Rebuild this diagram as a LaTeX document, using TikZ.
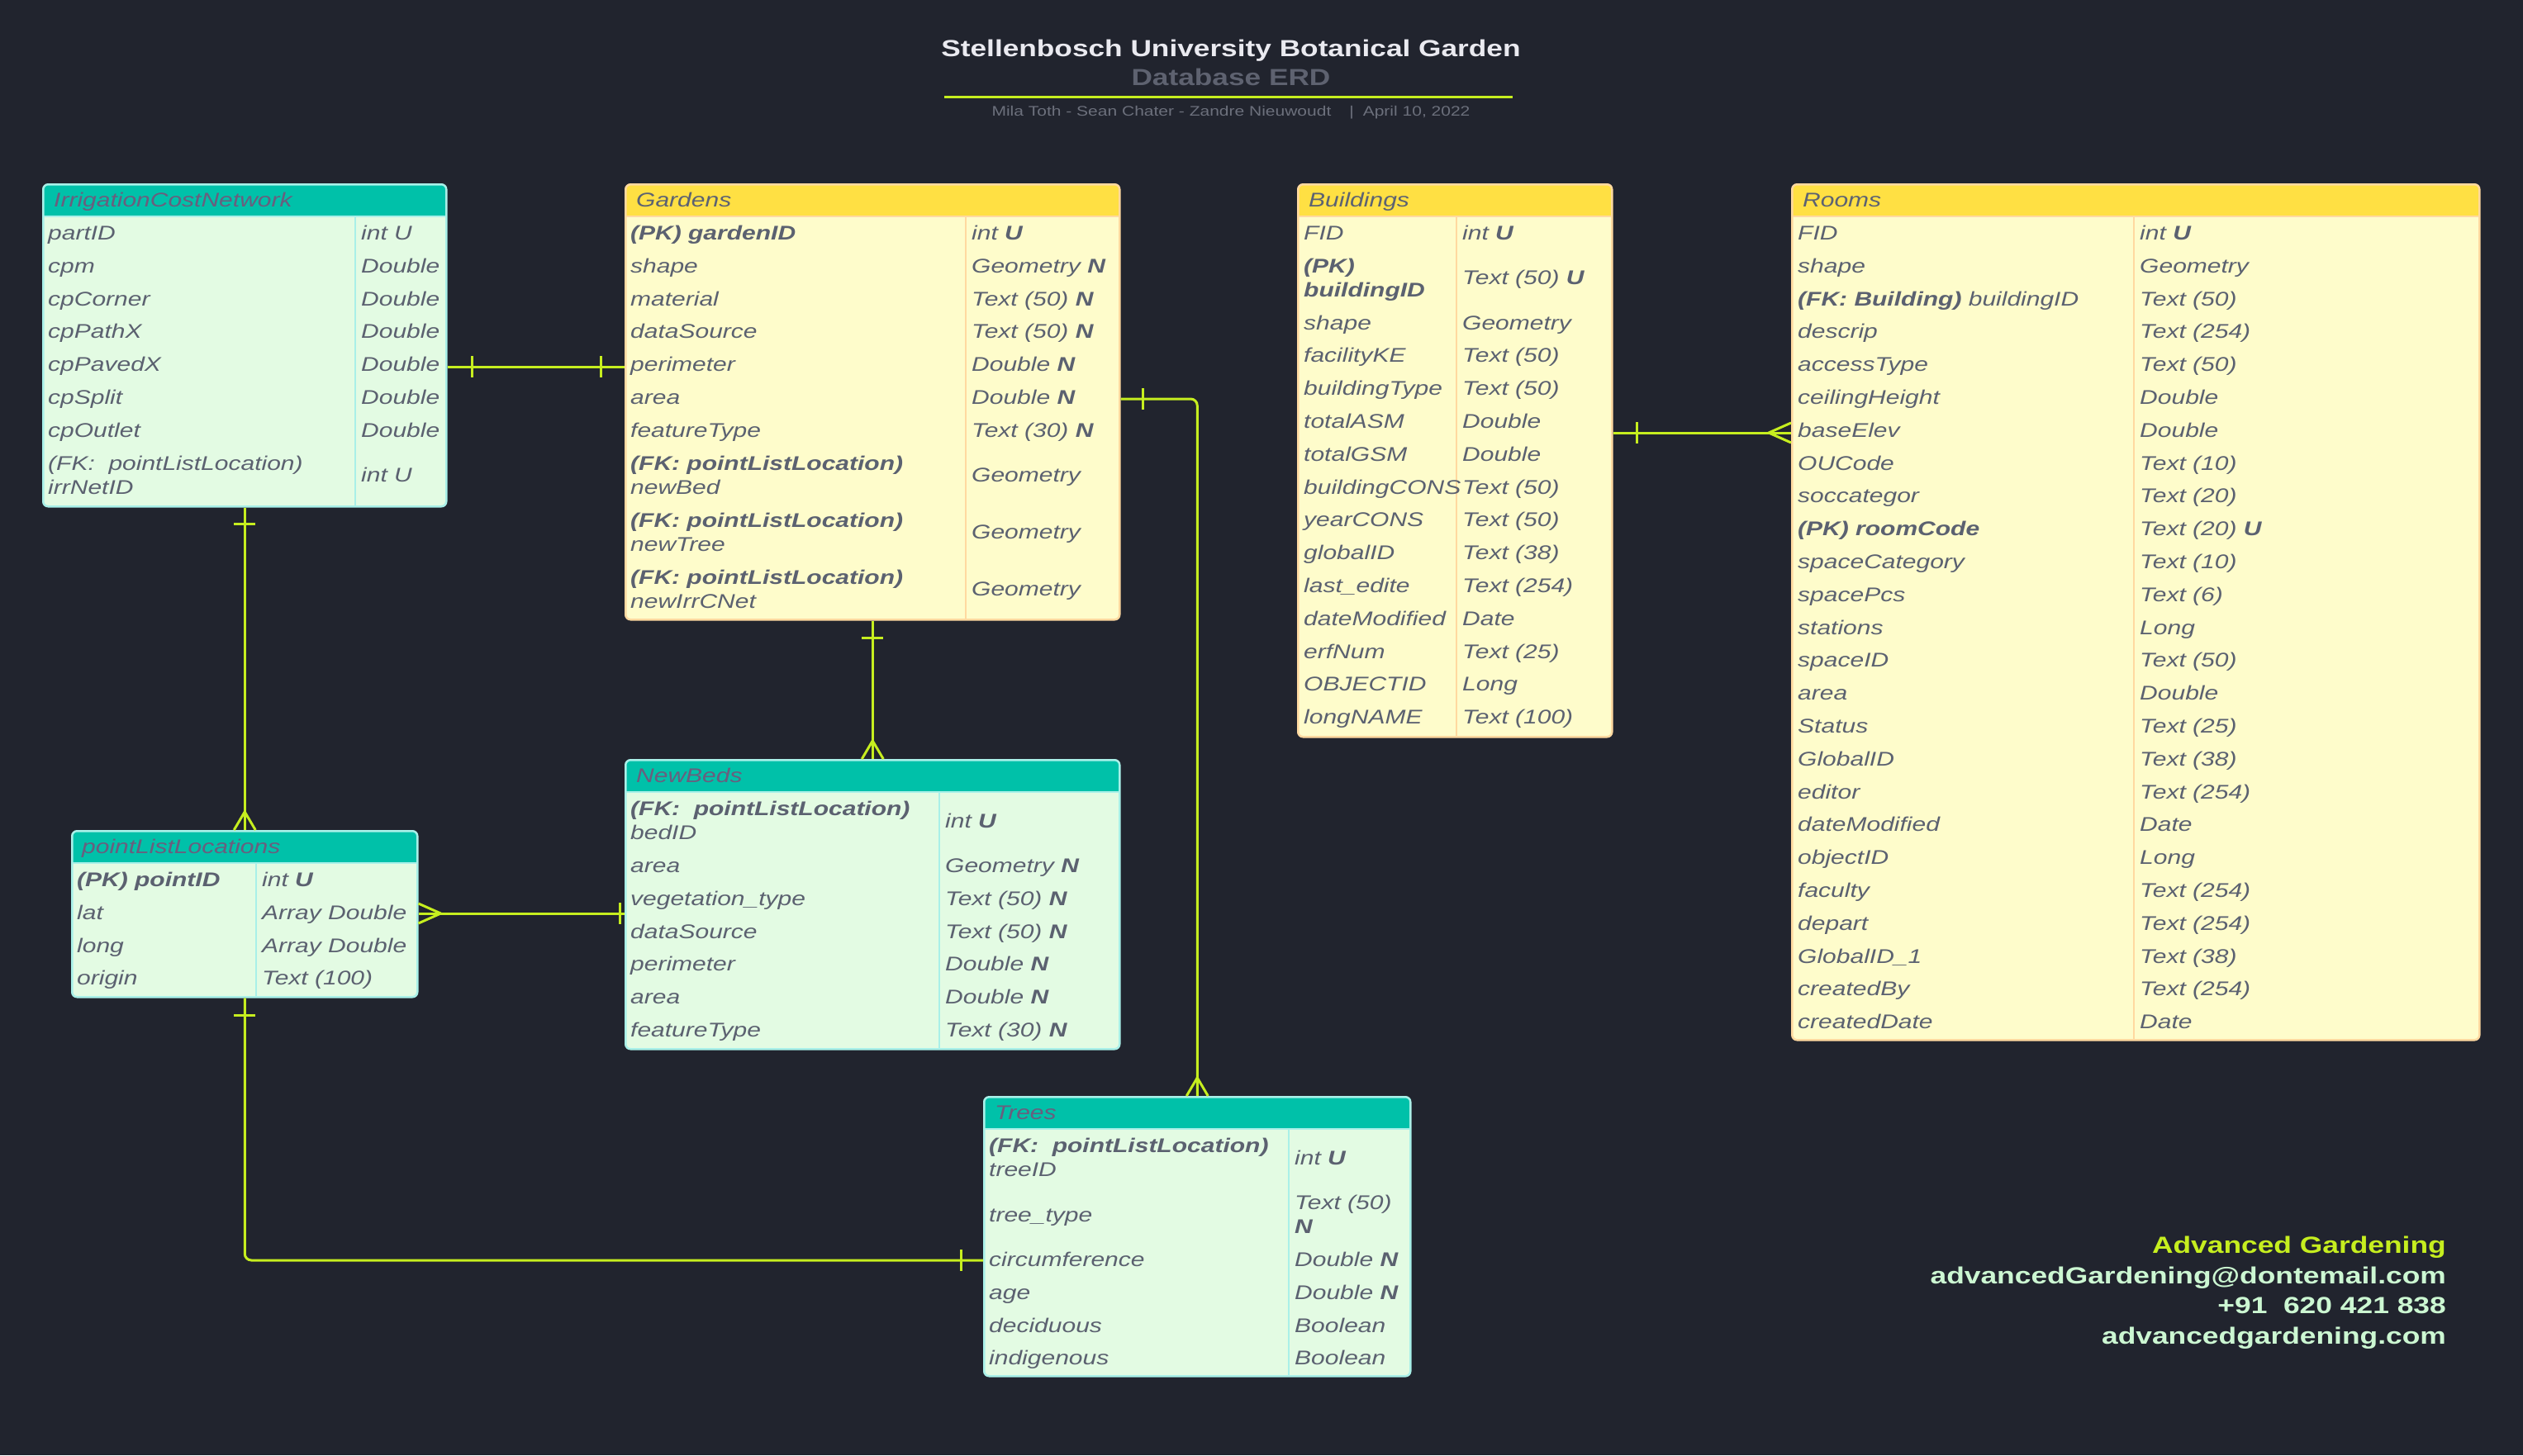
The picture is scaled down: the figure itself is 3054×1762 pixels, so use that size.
\documentclass[tikz,border=0pt]{standalone}
\usepackage{fontspec}
\setmainfont{Liberation Sans}[FakeStretch=1.25]
\usetikzlibrary{calc}

\definecolor{bgcol}{HTML}{21242E}
\definecolor{lime}{HTML}{C6EE1F}
\definecolor{tealhead}{HTML}{00C1A9}
\definecolor{tealbody}{HTML}{E3FBE3}
\definecolor{tealline}{HTML}{A9F0E8}
\definecolor{tealtitle}{HTML}{6A5E7E}
\definecolor{yelhead}{HTML}{FFE043}
\definecolor{yelbody}{HTML}{FEFCCB}
\definecolor{yelline}{HTML}{FFD9A0}
\definecolor{yeltitle}{HTML}{5C6272}
\definecolor{fldtext}{HTML}{5B6170}
\definecolor{titlecol}{HTML}{EAEAF0}
\definecolor{subcol}{HTML}{5E6270}
\definecolor{authcol}{HTML}{6C707C}
\definecolor{mint}{HTML}{CCF7D2}

\newcommand{\rowfont}{\fontsize{24}{29}\selectfont\itshape}

\tikzset{
  tealtable/.style={draw=tealline, fill=tealbody, line width=2.5pt, rounded corners=6pt,
    anchor=north west, inner sep=0pt,
    path picture={\fill[tealhead, sharp corners] (path picture bounding box.north west)
      rectangle ([yshift=-40pt]path picture bounding box.north east);}},
  yeltable/.style={draw=yelline, fill=yelbody, line width=2.5pt, rounded corners=6pt,
    anchor=north west, inner sep=0pt,
    path picture={\fill[yelhead, sharp corners] (path picture bounding box.north west)
      rectangle ([yshift=-40pt]path picture bounding box.north east);}},
  tealhdr/.style={anchor=base west, inner sep=0pt, font=\rowfont, text=tealtitle},
  yelhdr/.style={anchor=base west, inner sep=0pt, font=\rowfont, text=yeltitle},
  fld/.style={anchor=base west, inner sep=0pt, font=\rowfont, text=fldtext},
  tealsep/.style={draw=tealline, line width=2pt},
  yelsep/.style={draw=yelline, line width=2pt},
  rel/.style={draw=lime, line width=3pt},
  contact/.style={anchor=base east, inner sep=0pt, text=mint, font=\fontsize{28.3}{34}\selectfont\bfseries},
}

% one-bar and crow's foot marks
\newcommand{\tickv}[2]{\draw[rel] ([xshift=#2,yshift=13pt]#1) -- ([xshift=#2,yshift=-13pt]#1);}
\newcommand{\tickh}[2]{\draw[rel] ([xshift=-13pt,yshift=#2]#1) -- ([xshift=13pt,yshift=#2]#1);}
\newcommand{\crowup}[1]{\draw[rel,line join=round] ([xshift=-13pt]#1) -- ([yshift=22pt]#1) -- ([xshift=13pt]#1);}
\newcommand{\crowleft}[1]{\draw[rel,line join=round] ([yshift=12pt]#1) -- ([xshift=-27pt]#1) -- ([yshift=-12pt]#1);}
\newcommand{\crowright}[1]{\draw[rel,line join=round] ([yshift=12pt]#1) -- ([xshift=27pt]#1) -- ([yshift=-12pt]#1);}

\begin{document}
\begin{tikzpicture}[x=1pt, y=1pt]
\useasboundingbox (0,0) rectangle (3054,-1762);
\fill[bgcol] (0,0) rectangle (3054,-1762);

% title block
\node[anchor=base, inner sep=0pt, text=titlecol, font=\fontsize{28.2}{34}\selectfont\bfseries] (title) at (1490,-68.3) {Stellenbosch University Botanical Garden};
\node[anchor=base, inner sep=0pt, text=subcol, font=\fontsize{28.2}{34}\selectfont\bfseries] (sub) at (1490,-103.3) {Database ERD};
\draw[lime, line width=3.5pt] (1143,-117.5) -- (1831,-117.5);
\node[anchor=base, inner sep=0pt, text=authcol, font=\fontsize{16.8}{20}\selectfont] (authors) at (1490,-140.7) {Mila Toth - Sean Chater - Zandre Nieuwoudt\hspace{22pt}|\hspace{11pt}April 10, 2022};

% IrrigationCostNetwork
\node[tealtable, minimum width=488pt, minimum height=390pt] (irr) at (51,-222) {};
\draw[tealsep] (51,-262) -- (539,-262);
\draw[tealsep] (430,-262) -- (430,-612);
\node[tealhdr] (irr-h) at (65,-250.5) {IrrigationCostNetwork};
\foreach \n/\t [count=\i] in {partID/int U, cpm/Double, cpCorner/Double, cpPathX/Double,
    cpPavedX/Double, cpSplit/Double, cpOutlet/Double}
  {\node[fld] (irr-n\i) at (58,{-250.6-39.8*\i}) {\n};
   \node[fld] (irr-t\i) at (437,{-250.6-39.8*\i}) {\t};}
\node[fld] (irr-f8) at (58,-569.1) {(FK:\ \ pointListLocation)};
\node[fld] (irr-n8) at (58,-598.1) {irrNetID};
\node[fld] (irr-t8) at (437,-583.6) {int U};

% Gardens
\node[yeltable, minimum width=598pt, minimum height=527pt] (gard) at (756,-222) {};
\draw[yelsep] (756,-262) -- (1354,-262);
\draw[yelsep] (1169,-262) -- (1169,-749);
\node[yelhdr] (gard-h) at (770,-250.5) {Gardens};
\foreach \n/\t [count=\i] in {{\bfseries (PK) gardenID}/int \textbf{U}, shape/Geometry \textbf{N},
    material/Text (50) \textbf{N}, dataSource/Text (50) \textbf{N}, perimeter/Double \textbf{N},
    area/Double \textbf{N}, featureType/Text (30) \textbf{N}}
  {\node[fld] (gard-n\i) at (763,{-250.6-39.8*\i}) {\n};
   \node[fld] (gard-t\i) at (1176,{-250.6-39.8*\i}) {\t};}
\foreach \n [count=\k from 0] in {newBed, newTree, newIrrCNet}
  {\node[fld] (gard-f\k) at (763,{-569.1-69*\k}) {\bfseries (FK: pointListLocation)};
   \node[fld] (gard-m\k) at (763,{-598.1-69*\k}) {\n};
   \node[fld] (gard-g\k) at (1176,{-583.6-69*\k}) {Geometry};}

% Buildings
\node[yeltable, minimum width=380pt, minimum height=669pt] (bldg) at (1570,-222) {};
\draw[yelsep] (1570,-262) -- (1950,-262);
\draw[yelsep] (1763,-262) -- (1763,-891);
\node[yelhdr] (bldg-h) at (1584,-250.5) {Buildings};
\node[fld] (bldg-n1) at (1578,-290.4) {FID};
\node[fld] (bldg-t1) at (1770,-290.4) {int \textbf{U}};
\node[fld] (bldg-p2) at (1578,-330.2) {\bfseries (PK)};
\node[fld] (bldg-n2) at (1578,-359.2) {\bfseries buildingID};
\node[fld] (bldg-t2) at (1770,-344.7) {Text (50) \textbf{U}};
\foreach \n/\t [count=\i] in {shape/Geometry, facilityKE/Text (50), buildingType/Text (50),
    totalASM/Double, totalGSM/Double, buildingCONS/Text (50), yearCONS/Text (50),
    globalID/Text (38), last\_edite/Text (254), dateModified/Date, erfNum/Text (25),
    OBJECTID/Long, longNAME/Text (100)}
  {\node[fld] (bldg-r\i) at (1578,{-359.3-39.8*\i}) {\n};
   \node[fld] (bldg-s\i) at (1770,{-359.3-39.8*\i}) {\t};}

% Rooms
\node[yeltable, minimum width=832pt, minimum height=1036pt] (room) at (2168,-222) {};
\draw[yelsep] (2168,-262) -- (3000,-262);
\draw[yelsep] (2583,-262) -- (2583,-1258);
\node[yelhdr] (room-h) at (2182,-250.5) {Rooms};
\foreach \n/\t [count=\i] in {FID/int \textbf{U}, shape/Geometry,
    {\bfseries (FK: Building)} buildingID/Text (50), descrip/Text (254), accessType/Text (50),
    ceilingHeight/Double, baseElev/Double, OUCode/Text (10), soccategor/Text (20),
    {\bfseries (PK) roomCode}/Text (20) \textbf{U}, spaceCategory/Text (10), spacePcs/Text (6),
    stations/Long, spaceID/Text (50), area/Double, Status/Text (25), GlobalID/Text (38),
    editor/Text (254), dateModified/Date, objectID/Long, faculty/Text (254), depart/Text (254),
    GlobalID\_1/Text (38), createdBy/Text (254), createdDate/Date}
  {\node[fld] (room-n\i) at (2176,{-250.6-39.8*\i}) {\n};
   \node[fld] (room-t\i) at (2590,{-250.6-39.8*\i}) {\t};}

% pointListLocations
\node[tealtable, minimum width=418pt, minimum height=201pt] (pts) at (86,-1005) {};
\draw[tealsep] (86,-1045) -- (504,-1045);
\draw[tealsep] (310,-1045) -- (310,-1206);
\node[tealhdr] (pts-h) at (99,-1033.5) {pointListLocations};
\foreach \n/\t [count=\i] in {{\bfseries (PK) pointID}/int \textbf{U}, lat/Array Double,
    long/Array Double, origin/Text (100)}
  {\node[fld] (pts-n\i) at (93,{-1033.6-39.8*\i}) {\n};
   \node[fld] (pts-t\i) at (317,{-1033.6-39.8*\i}) {\t};}

% NewBeds
\node[tealtable, minimum width=598pt, minimum height=350pt] (beds) at (756,-919) {};
\draw[tealsep] (756,-959) -- (1354,-959);
\draw[tealsep] (1137,-959) -- (1137,-1269);
\node[tealhdr] (beds-h) at (770,-947.5) {NewBeds};
\node[fld] (beds-f1) at (763,-987.5) {\bfseries (FK:\ \ pointListLocation)};
\node[fld] (beds-n1) at (763,-1016.5) {bedID};
\node[fld] (beds-t1) at (1144,-1002) {int \textbf{U}};
\foreach \n/\t [count=\i] in {area/Geometry \textbf{N}, vegetation\_type/Text (50) \textbf{N},
    dataSource/Text (50) \textbf{N}, perimeter/Double \textbf{N}, area/Double \textbf{N},
    featureType/Text (30) \textbf{N}}
  {\node[fld] (beds-r\i) at (763,{-1016.6-39.8*\i}) {\n};
   \node[fld] (beds-s\i) at (1144,{-1016.6-39.8*\i}) {\t};}

% Trees
\node[tealtable, minimum width=516pt, minimum height=338pt] (tree) at (1190,-1327) {};
\draw[tealsep] (1190,-1367) -- (1706,-1367);
\draw[tealsep] (1560,-1367) -- (1560,-1665);
\node[tealhdr] (tree-h) at (1204,-1355.5) {Trees};
\node[fld] (tree-f1) at (1197,-1395.5) {\bfseries (FK:\ \ pointListLocation)};
\node[fld] (tree-n1) at (1197,-1424.5) {treeID};
\node[fld] (tree-t1) at (1567,-1410) {int \textbf{U}};
\node[fld] (tree-n2) at (1197,-1479) {tree\_type};
\node[fld] (tree-t2) at (1567,-1464.5) {Text (50)};
\node[fld] (tree-u2) at (1567,-1493.5) {\bfseries N};
\foreach \n/\t [count=\i] in {circumference/Double \textbf{N}, age/Double \textbf{N},
    deciduous/Boolean, indigenous/Boolean}
  {\node[fld] (tree-r\i) at (1197,{-1493.6-39.8*\i}) {\n};
   \node[fld] (tree-s\i) at (1567,{-1493.6-39.8*\i}) {\t};}

% relationships
\coordinate (c1a) at ([yshift=-222pt]irr.north east);
\coordinate (c1b) at ([yshift=-222pt]gard.north west);
\path[rel] (c1a) edge (c1b);
\tickv{c1a}{30pt}
\tickv{c1b}{-29pt}

\path[rel] (irr.south) edge (pts.north);
\tickh{irr.south}{-20pt}
\crowup{pts.north}

\coordinate (c3a) at ([yshift=-101pt]pts.north east);
\coordinate (c3b) at (c3a -| beds.west);
\path[rel] (c3a) edge (c3b);
\crowright{c3a}
\tickv{c3b}{-6pt}

\path[rel] (gard.south) edge (beds.north);
\tickh{gard.south}{-21pt}
\crowup{beds.north}

\coordinate (c5) at ([yshift=-261pt]gard.north east);
\draw[rel, rounded corners=8pt] (c5) -| (tree.north);
\tickv{c5}{27pt}
\crowup{tree.north}

\coordinate (c6) at ([yshift=-199pt]tree.north west);
\draw[rel, rounded corners=8pt] (pts.south) |- (c6);
\tickh{pts.south}{-21pt}
\tickv{c6}{-27pt}

\coordinate (c7a) at ([yshift=-302pt]bldg.north east);
\coordinate (c7b) at (c7a -| room.west);
\path[rel] (c7a) edge (c7b);
\tickv{c7a}{29pt}
\crowleft{c7b}

% contact
\node[contact, text=lime] (firm) at (2961,-1517.3) {Advanced Gardening};
\node[contact] (mail) at (2961,-1554) {advancedGardening@dontemail.com};
\node[contact] (phone) at (2961,-1590.7) {+91\ \ 620 421 838};
\node[contact] (web) at (2961,-1627.3) {advancedgardening.com};
\end{tikzpicture}
\end{document}
